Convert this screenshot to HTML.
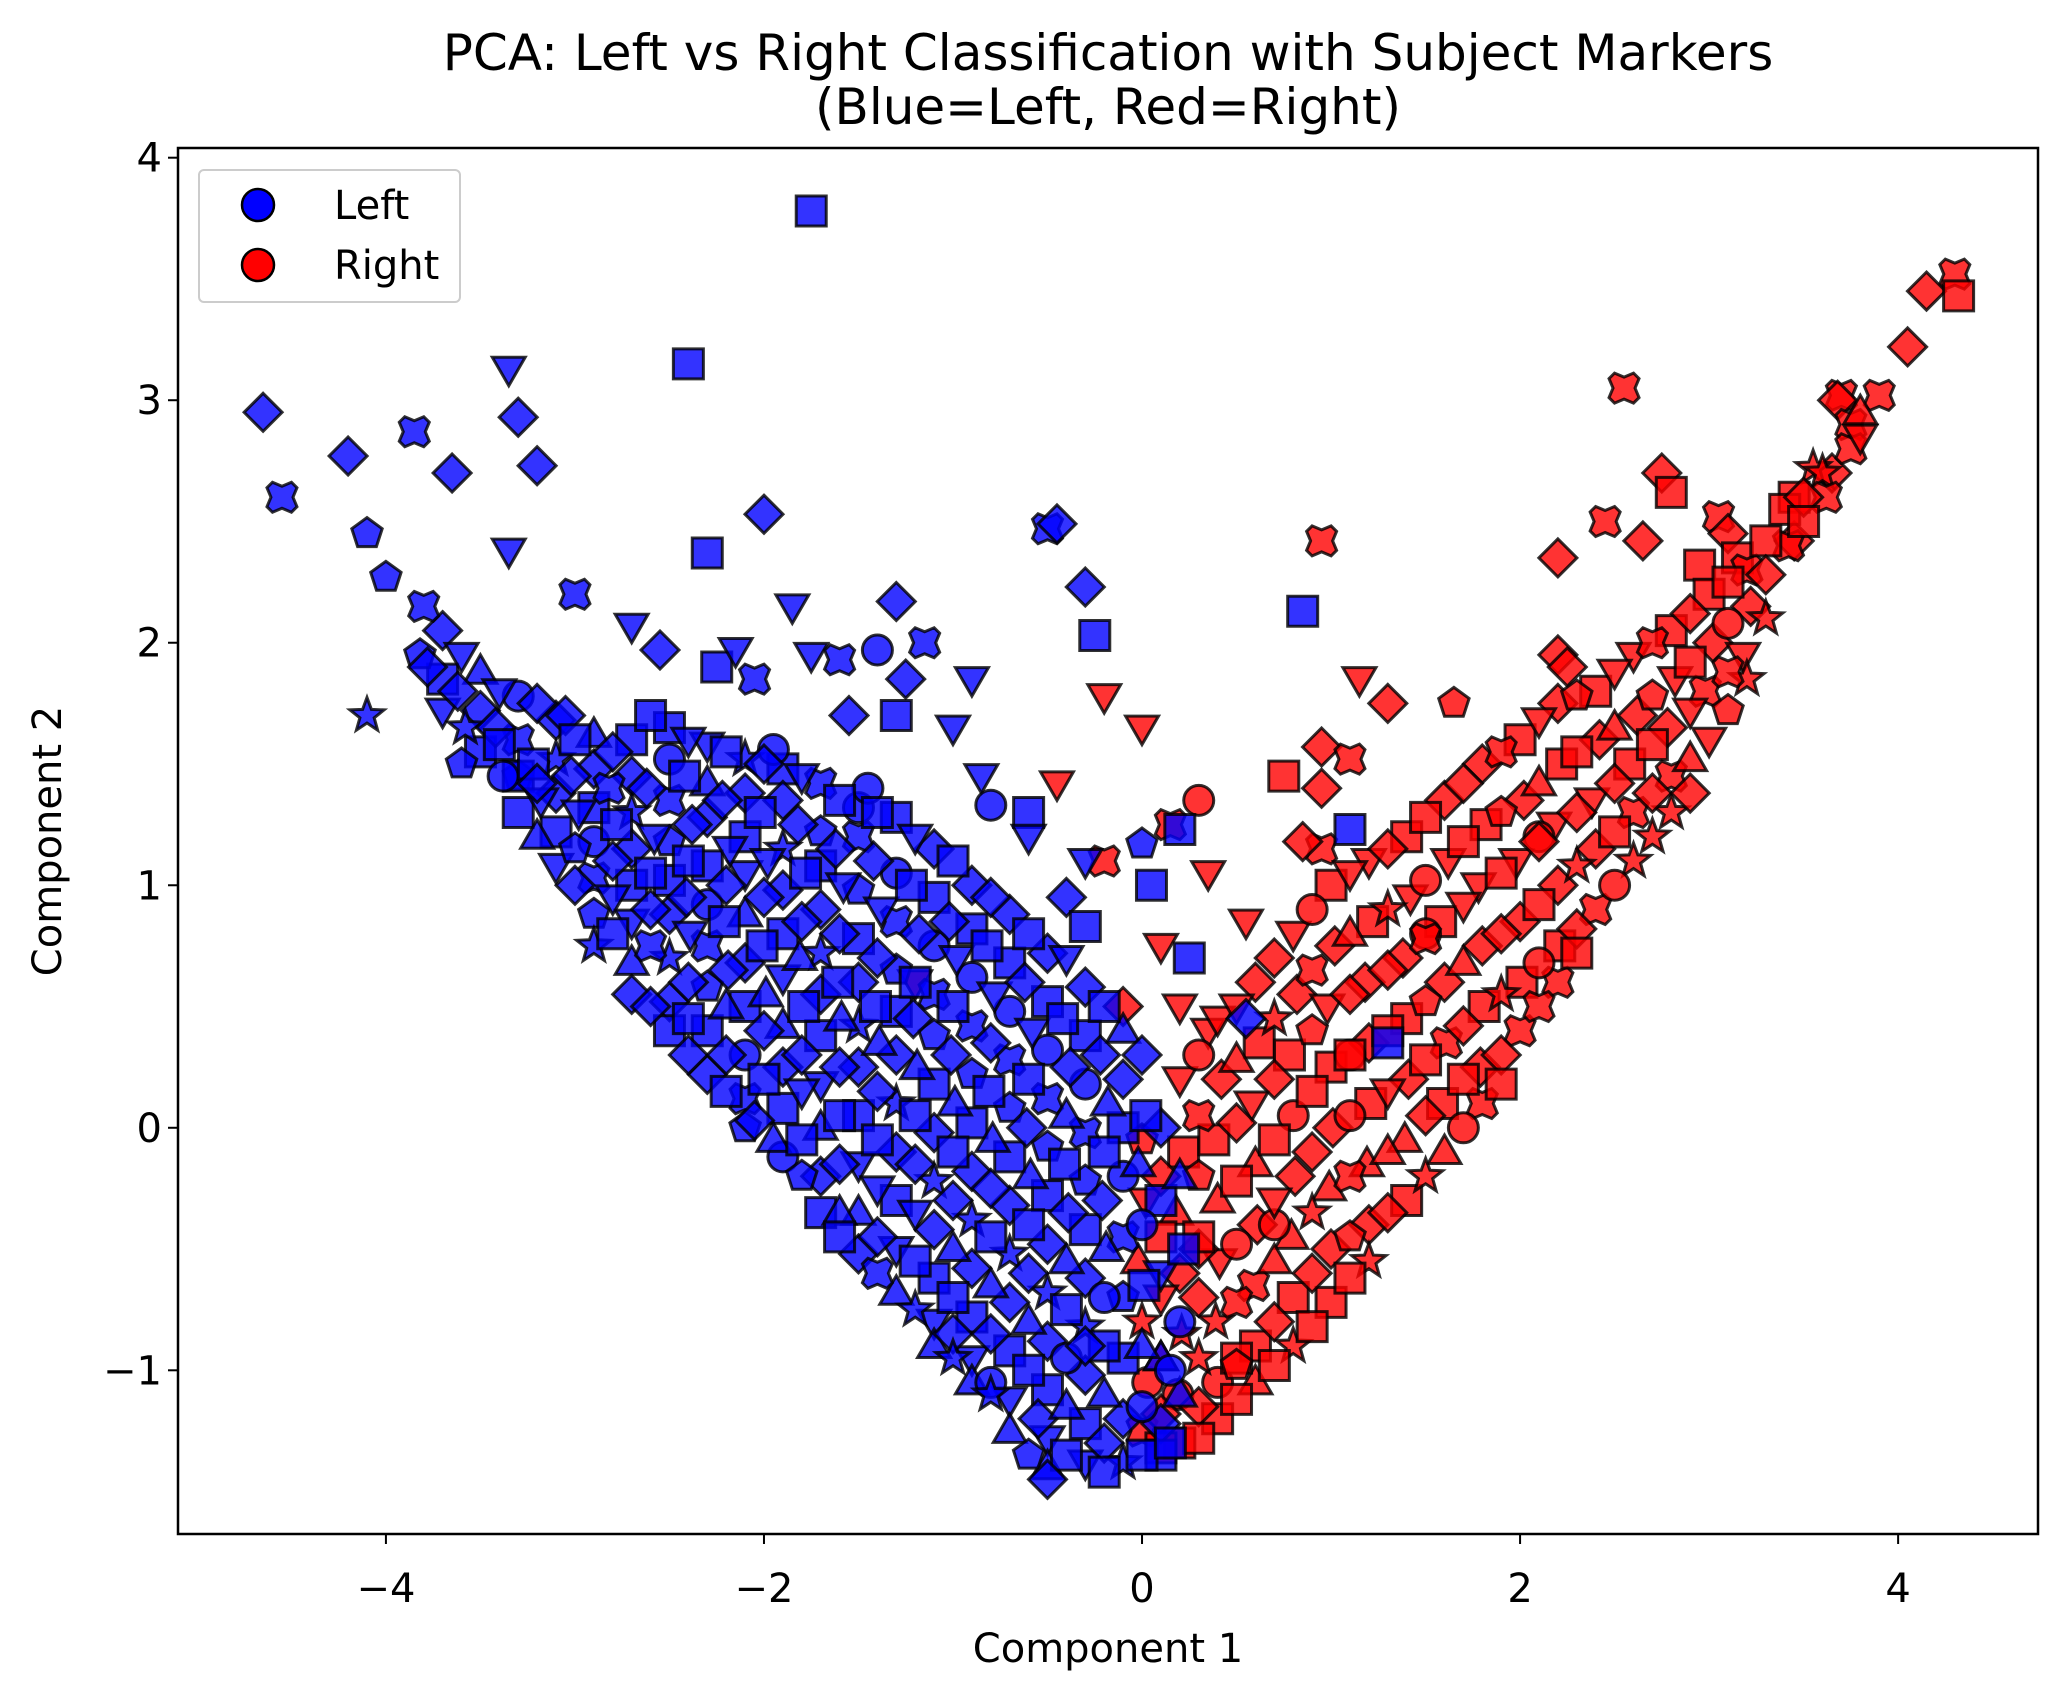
<!DOCTYPE html>
<html><head><meta charset="utf-8"><style>
html,body{margin:0;padding:0;background:#fff;}
svg{display:block;font-family:"DejaVu Sans","Liberation Sans",sans-serif;}
</style></head><body>
<svg id="chart" width="2067" height="1690" viewBox="0 0 2067 1690">
<rect x="0" y="0" width="2067" height="1690" fill="#fff"/>
<text x="1108" y="70" font-size="50" text-anchor="middle">PCA: Left vs Right Classification with Subject Markers</text>
<text x="1108" y="124" font-size="50" text-anchor="middle">(Blue=Left, Red=Right)</text>
<g id="plot"></g>
<g id="axes"></g>
<text x="1108" y="1662" font-size="40" text-anchor="middle">Component 1</text>
<text x="0" y="0" font-size="40" text-anchor="middle" transform="translate(61,841) rotate(-90)">Component 2</text>
<g>
<rect x="199" y="170" width="261" height="132" rx="5" fill="#fff" fill-opacity="0.8" stroke="#ccc" stroke-width="2"/>
<g>
<circle cx="258" cy="205" r="16" fill="#0000ff" stroke="#000" stroke-width="2.5"/>
<text x="334" y="219" font-size="40">Left</text></g>
<g>
<circle cx="258" cy="265" r="16" fill="#ff0000" stroke="#000" stroke-width="2.5"/>
<text x="334" y="279" font-size="40">Right</text></g>
</g>
</svg>
<script>
// markers: 0 o, 1 s, 2 ^, 3 v, 4 D, 5 p, 6 *, 7 X
const xTicks = [-4, -2, 0, 2, 4];
const yTicks = [-1, 0, 1, 2, 3, 4];
const rightPoints = [
[4.15,3.45,4],[4.3,3.52,7],[4.32,3.43,1],[4.05,3.22,4],[3.7,3.02,7],[3.68,3.0,4],[3.9,3.02,7],[3.75,2.9,7],[3.65,2.7,4],[3.55,2.72,6],[3.75,2.8,7],[3.45,2.6,1],[3.45,2.42,4],[2.55,3.05,7],[2.75,2.7,4],[2.8,2.62,1],[2.45,2.5,7],[2.65,2.42,4],[0.95,2.42,7],[2.2,2.35,4],[3.05,2.52,7],[3.1,2.45,4],[3.15,2.35,1],[2.95,2.32,1],[1.65,1.75,5],[1.3,1.75,4],[1.15,1.85,3],[0.95,1.57,4],[1.1,1.52,7],[2.2,1.95,4],[2.25,1.9,4],[-0.2,1.78,3],[0.0,1.65,3],[-0.45,1.42,3],[0.75,1.45,1],[0.95,1.4,4],[0.3,1.35,0],[0.15,1.25,7],[-0.2,1.1,7],[0.35,1.05,3],[0.95,1.15,7],[0.85,1.18,4],[-1.2,0.6,3],[-0.1,0.5,4],[0.2,0.5,3],[0.35,0.4,3],[0.1,0.75,3],[0.55,0.85,3],
[0.0,-0.05,5],[0.02,-0.3,3],[-0.02,-0.55,2],[0.0,-0.8,6],[0.03,-1.05,0],[0.0,-1.25,7],
[0.2,0.2,3],[0.22,-0.1,1],[0.18,-0.35,2],[0.2,-0.6,4],[0.21,-0.85,6],[0.19,-1.1,0],[0.2,-1.3,1],
[0.4,0.45,3],[0.42,0.2,4],[0.38,-0.05,1],[0.4,-0.3,2],[0.41,-0.55,3],[0.39,-0.8,6],[0.4,-1.05,0],[0.4,-1.2,1],
[0.6,0.6,4],[0.62,0.35,1],[0.58,0.1,3],[0.6,-0.15,2],[0.61,-0.4,4],[0.59,-0.65,7],[0.6,-0.9,1],[0.6,-1.05,2],
[0.8,0.8,3],[0.82,0.55,4],[0.78,0.3,1],[0.8,0.05,0],[0.81,-0.2,4],[0.79,-0.45,2],[0.8,-0.7,1],[0.8,-0.9,6],
[1.0,1.0,1],[1.02,0.75,4],[0.98,0.5,3],[1.0,0.25,1],[1.01,0.0,4],[0.99,-0.25,2],[1.0,-0.5,4],[1.0,-0.72,1],
[1.2,1.1,3],[1.22,0.85,1],[1.18,0.6,4],[1.2,0.35,4],[1.21,0.1,1],[1.19,-0.15,2],[1.2,-0.4,4],[1.2,-0.55,6],
[1.4,1.2,1],[1.42,0.95,3],[1.38,0.7,4],[1.4,0.45,1],[1.41,0.2,4],[1.39,-0.05,2],[1.4,-0.3,1],
[1.6,1.35,4],[1.62,1.1,3],[1.58,0.85,1],[1.6,0.6,4],[1.61,0.35,7],[1.59,0.1,1],[1.6,-0.1,2],
[1.8,1.5,4],[1.82,1.25,1],[1.78,1.0,3],[1.8,0.75,4],[1.81,0.5,1],[1.79,0.25,4],[1.8,0.1,7],
[2.0,1.6,1],[2.02,1.35,4],[1.98,1.1,3],[2.0,0.85,4],[2.01,0.6,1],[2.0,0.4,7],
[2.2,1.75,4],[2.22,1.5,1],[2.18,1.25,3],[2.2,1.0,4],[2.21,0.75,1],[2.2,0.6,7],
[2.4,1.8,1],[2.42,1.6,4],[2.38,1.35,3],[2.4,1.15,4],[2.4,0.9,7],
[2.6,1.95,3],[2.62,1.7,4],[2.58,1.5,1],[2.6,1.3,7],[2.6,1.1,6],
[2.8,2.05,1],[2.82,1.85,3],[2.78,1.65,4],[2.8,1.45,7],[2.8,1.3,6],
[3.0,2.2,1],[3.02,2.0,4],[2.98,1.8,7],[3.0,1.6,3],
[3.2,2.3,7],[3.22,2.15,4],[3.18,1.95,3],[3.2,1.85,6],
[3.4,2.55,1],[3.42,2.4,7],[3.6,2.7,6],[3.62,2.6,7],
[1.5,0.8,0],[1.1,0.3,0],[0.7,-0.4,0],[2.1,1.2,0],[0.3,-0.5,4],[0.5,-0.95,1]
];
const rightDenseX = [0.1,0.3,0.5,0.7,0.9,1.1,1.3,1.5,1.7,1.9,2.1,2.3,2.5,2.7,2.9,3.1,3.3,3.5,3.8];
const rightDenseY = [
[-0.2,-0.45,-0.7,-0.95,-1.18,-1.32],
[0.3,0.05,-0.2,-0.45,-0.7,-0.95,-1.15,-1.28],
[0.5,0.28,0.02,-0.22,-0.48,-0.72,-0.98,-1.12],
[0.7,0.45,0.2,-0.05,-0.3,-0.55,-0.8,-0.98],
[0.9,0.65,0.4,0.15,-0.1,-0.35,-0.6,-0.82],
[1.05,0.8,0.55,0.3,0.05,-0.2,-0.45,-0.62],
[1.15,0.9,0.65,0.4,0.15,-0.1,-0.35],
[1.28,1.02,0.78,0.52,0.28,0.05,-0.2],
[1.42,1.18,0.92,0.68,0.42,0.2,0.0],
[1.55,1.3,1.05,0.8,0.55,0.3,0.18],
[1.68,1.42,1.18,0.92,0.68,0.5],
[1.78,1.55,1.3,1.08,0.82,0.72],
[1.88,1.65,1.42,1.22,1.0],
[2.0,1.78,1.58,1.38,1.2],
[2.12,1.92,1.72,1.52,1.38],
[2.25,2.08,1.88,1.72],
[2.42,2.28,2.1],
[2.6,2.5],
[2.85,2.95]
];
const leftPoints = [
[-4.65,2.95,4],[-4.55,2.6,7],[-4.2,2.77,4],[-4.1,2.45,5],[-4.0,2.27,5],[-3.85,2.87,7],[-3.65,2.7,4],[-3.35,3.13,3],[-3.3,2.93,4],[-3.2,2.73,4],[-3.35,2.38,3],[-3.0,2.2,7],[-2.4,3.15,1],[-1.75,3.78,1],[-2.0,2.53,4],[-2.3,2.37,1],[-0.5,2.47,7],[-0.45,2.49,4],[-0.3,2.23,4],[-0.25,2.03,1],[0.85,2.13,1],[-1.3,2.17,4],[-1.15,2.0,7],[-1.85,2.15,3],[-1.4,1.97,0],[-0.9,1.85,3],[-1.75,1.95,3],[-1.6,1.93,7],[-2.25,1.9,1],[-2.55,1.97,4],[-2.15,1.97,3],[-2.7,2.07,3],[-2.05,1.85,7],[-4.1,1.7,6],[-1.45,1.4,0],[-1.95,1.56,0],[-1.55,1.7,4],[-1.3,1.7,1],[-1.25,1.85,4],[-1.0,1.65,3],[-0.85,1.45,3],[-0.8,1.33,0],[-0.6,1.3,1],[-0.6,1.2,3],[-0.3,1.1,3],[0.0,1.17,5],[0.05,1.0,1],[-0.4,0.95,4],[-0.3,0.83,1],[0.2,1.23,1],[1.1,1.23,1],[0.25,0.7,1],[0.55,0.45,4],[1.3,0.35,1],[-2.9,0.75,6],[-3.3,1.45,1],[-3.05,1.7,4],
[-3.8,2.15,7],[-3.82,1.95,5],[-3.78,1.9,4],
[-3.6,1.95,3],[-3.62,1.8,4],[-3.58,1.65,6],[-3.6,1.5,5],
[-3.4,1.8,3],[-3.42,1.65,4],[-3.38,1.45,0],[-3.4,1.58,1],
[-3.2,1.75,4],[-3.22,1.5,1],[-3.18,1.35,3],[-3.2,1.2,2],[-3.2,1.42,4],
[-3.0,1.6,1],[-3.02,1.45,4],[-2.98,1.3,3],[-3.0,1.15,5],[-3.0,1.0,4],
[-2.8,1.55,4],[-2.82,1.4,7],[-2.78,1.25,1],[-2.8,1.1,4],[-2.8,0.95,3],[-2.8,0.8,1],
[-2.6,1.7,1],[-2.62,1.4,4],[-2.58,1.2,3],[-2.6,1.05,1],[-2.6,0.9,4],[-2.6,0.75,7],[-2.6,0.5,4],
[-2.4,1.6,3],[-2.42,1.45,1],[-2.38,1.25,4],[-2.4,1.1,1],[-2.41,0.95,4],[-2.39,0.8,3],[-2.4,0.6,4],[-2.4,0.45,1],[-2.4,0.3,4],
[-2.2,1.55,1],[-2.22,1.35,4],[-2.18,1.15,3],[-2.2,1.0,4],[-2.21,0.85,1],[-2.19,0.65,4],[-2.2,0.5,2],[-2.2,0.3,4],[-2.2,0.15,1],
[-2.0,1.5,4],[-2.02,1.3,1],[-1.98,1.1,3],[-2.0,0.95,4],[-2.01,0.75,1],[-1.99,0.55,2],[-2.0,0.4,4],[-2.0,0.2,1],[-2.05,0.03,4],[-1.95,-0.05,2],
[-1.8,1.45,3],[-1.82,1.25,4],[-1.78,1.05,1],[-1.8,0.85,4],[-1.81,0.7,2],[-1.79,0.5,1],[-1.8,0.3,4],[-1.8,0.15,3],[-1.8,-0.05,1],[-1.8,-0.2,5],
[-1.6,1.35,1],[-1.62,1.15,4],[-1.58,1.0,3],[-1.6,0.8,4],[-1.61,0.6,1],[-1.59,0.45,2],[-1.6,0.25,4],[-1.6,0.05,1],[-1.6,-0.15,4],[-1.6,-0.35,2],[-1.6,-0.45,1],
[-1.4,1.3,1],[-1.42,1.1,4],[-1.38,0.9,3],[-1.4,0.7,4],[-1.41,0.5,1],[-1.39,0.35,2],[-1.4,0.15,4],[-1.4,-0.05,1],[-1.4,-0.25,3],[-1.4,-0.45,4],[-1.4,-0.6,7],
[-1.2,1.2,3],[-1.22,1.0,1],[-1.18,0.8,4],[-1.2,0.6,1],[-1.21,0.45,4],[-1.19,0.25,2],[-1.2,0.05,1],[-1.2,-0.15,4],[-1.2,-0.35,3],[-1.2,-0.55,1],[-1.2,-0.75,6],
[-1.0,1.1,1],[-1.02,0.85,4],[-0.98,0.7,3],[-1.0,0.5,1],[-1.01,0.3,4],[-0.99,0.1,2],[-1.0,-0.1,1],[-1.0,-0.3,4],[-1.0,-0.5,2],[-1.0,-0.7,1],[-1.0,-0.85,4],[-1.0,-0.95,6],
[-0.8,0.95,4],[-0.82,0.75,1],[-0.78,0.55,3],[-0.8,0.35,4],[-0.81,0.15,1],[-0.79,-0.05,2],[-0.8,-0.25,4],[-0.8,-0.45,1],[-0.8,-0.65,2],[-0.8,-0.85,4],[-0.8,-1.05,0],[-0.8,-1.1,6],
[-0.6,0.8,1],[-0.62,0.6,4],[-0.58,0.4,3],[-0.6,0.2,1],[-0.61,0.0,4],[-0.59,-0.2,2],[-0.6,-0.4,1],[-0.6,-0.6,4],[-0.6,-0.8,2],[-0.6,-1.0,1],[-0.55,-1.2,4],[-0.6,-1.35,5],
[-0.4,0.7,3],[-0.42,0.45,1],[-0.38,0.25,4],[-0.4,0.05,2],[-0.41,-0.15,1],[-0.39,-0.35,4],[-0.4,-0.55,2],[-0.4,-0.75,1],[-0.4,-0.95,0],[-0.4,-1.15,2],[-0.4,-1.35,1],[-0.5,-1.45,4],
[-0.2,0.5,1],[-0.22,0.3,4],[-0.18,0.1,2],[-0.2,-0.1,1],[-0.21,-0.3,4],[-0.19,-0.5,2],[-0.2,-0.7,0],[-0.2,-0.9,1],[-0.2,-1.1,2],[-0.2,-1.3,4],[-0.2,-1.42,1],
[0.0,0.3,4],[0.02,0.05,1],[-0.02,-0.15,2],[0.0,-0.4,0],[0.01,-0.65,1],[0.0,-0.9,2],[0.0,-1.15,0],[0.0,-1.35,1],
[0.2,-0.2,2],[0.22,-0.5,1],[0.2,-0.8,0],[0.2,-1.1,2],[0.15,-1.3,1],
[-0.3,-0.9,4],[0.15,-1.0,0]
];
const leftDenseX = [-3.7,-3.5,-3.3,-3.1,-2.9,-2.7,-2.5,-2.3,-2.1,-1.9,-1.7,-1.5,-1.3,-1.1,-0.9,-0.7,-0.5,-0.3,-0.1,0.1];
const leftDenseY = [
[2.05,1.85,1.72],
[1.88,1.72,1.55],
[1.78,1.6,1.45,1.3],
[1.68,1.52,1.38,1.22,1.08],
[1.62,1.48,1.32,1.18,1.03,0.88],
[1.6,1.45,1.3,1.15,1.0,0.85,0.68,0.55],
[1.65,1.52,1.35,1.18,1.02,0.88,0.7,0.52,0.4],
[1.58,1.42,1.28,1.08,0.92,0.75,0.58,0.4,0.22],
[1.52,1.38,1.2,1.05,0.88,0.68,0.5,0.3,0.12,0.0],
[1.48,1.35,1.15,0.98,0.8,0.62,0.42,0.25,0.08,-0.12],
[1.42,1.22,1.08,0.9,0.72,0.55,0.38,0.18,0.0,-0.2,-0.35],
[1.32,1.2,0.98,0.78,0.6,0.42,0.25,0.05,-0.15,-0.35,-0.52],
[1.28,1.05,0.85,0.65,0.48,0.3,0.1,-0.1,-0.3,-0.5,-0.68],
[1.15,0.95,0.75,0.55,0.38,0.18,-0.02,-0.22,-0.42,-0.62,-0.8,-0.9],
[1.0,0.82,0.62,0.42,0.22,0.02,-0.18,-0.38,-0.58,-0.78,-0.95,-1.05],
[0.88,0.68,0.48,0.28,0.08,-0.12,-0.32,-0.52,-0.72,-0.92,-1.12,-1.25],
[0.72,0.52,0.32,0.12,-0.08,-0.28,-0.48,-0.68,-0.88,-1.08,-1.28,-1.4],
[0.58,0.38,0.18,-0.02,-0.22,-0.42,-0.62,-0.82,-1.02,-1.22,-1.38],
[0.4,0.2,0.0,-0.2,-0.45,-0.7,-0.95,-1.2,-1.38],
[0.0,-0.3,-0.6,-0.95,-1.22,-1.35]
];
const X0=178,X1=2038,Y0=148,Y1=1534, xmin=-5.1, xmax=4.74, ymin=-1.675, ymax=4.04;
const NS='http://www.w3.org/2000/svg';
function sx(v){return X0+(v-xmin)/(xmax-xmin)*(X1-X0);}
function sy(v){return Y1-(v-ymin)/(ymax-ymin)*(Y1-Y0);}
function poly(cx,cy,n,r,rot,inner){let p=[];const k=inner?2*n:n;for(let i=0;i<k;i++){const a=rot+i*Math.PI*2/k;const rr=inner&&i%2?inner:r;p.push((cx+rr*Math.sin(a)).toFixed(1)+','+(cy-rr*Math.cos(a)).toFixed(1));}return p.join(' ');}
function shape(m,cx,cy){
  let el;
  if(m===0){el=document.createElementNS(NS,'circle');el.setAttribute('cx',cx);el.setAttribute('cy',cy);el.setAttribute('r',15);return el;}
  el=document.createElementNS(NS,'polygon');
  let pts;
  if(m===1)pts=[[cx-15,cy-15],[cx+15,cy-15],[cx+15,cy+15],[cx-15,cy+15]].map(a=>a.join(',')).join(' ');
  else if(m===2)pts=poly(cx,cy+2,3,19,0);
  else if(m===3)pts=poly(cx,cy-2,3,19,Math.PI);
  else if(m===4)pts=poly(cx,cy,4,19,0);
  else if(m===5)pts=poly(cx,cy,5,16,0);
  else if(m===6)pts=poly(cx,cy,5,18,0,7.5);
  else {const a=5.5,b=15;pts=[[0,-a*2],[b-a,-b],[b,-b+a],[a*2,0],[b,b-a],[b-a,b],[0,a*2],[-b+a,b],[-b,b-a],[-a*2,0],[-b,-b+a],[-b+a,-b]].map(q=>(cx+q[0])+','+(cy+q[1])).join(' ');}
  el.setAttribute('points',pts);return el;
}
const markerCycle=[4,1,3,2,4,1,0,7,5,1,4,6];
function expand(xs,ys){const out=[];let k=0;xs.forEach((x,i)=>{ys[i].forEach(y=>{out.push([x,y,markerCycle[k%markerCycle.length]]);k++;});});return out;}
const plot=document.getElementById('plot');
const clip=document.createElementNS(NS,'clipPath');clip.setAttribute('id','clp');
const cr=document.createElementNS(NS,'rect');cr.setAttribute('x',X0);cr.setAttribute('y',Y0);cr.setAttribute('width',X1-X0);cr.setAttribute('height',Y1-Y0);clip.appendChild(cr);plot.appendChild(clip);
plot.setAttribute('clip-path','url(#clp)');
function drawSeries(arr,color,name){
  const g=document.createElementNS(NS,'g');
  
  
  arr.forEach(p=>{
    const el=shape(p[2],sx(p[0]),sy(p[1]));
    el.setAttribute('fill',color);el.setAttribute('fill-opacity','0.8');
    el.setAttribute('stroke','#000');el.setAttribute('stroke-opacity','0.8');el.setAttribute('stroke-width','3');
    
    
    g.appendChild(el);
  });
  plot.appendChild(g);
}
drawSeries(rightPoints.concat(expand(rightDenseX,rightDenseY)),'#ff0000','right-series');
drawSeries(expand(leftDenseX,leftDenseY).concat(leftPoints),'#0000ff','left-series');
const axes=document.getElementById('axes');
const frame=document.createElementNS(NS,'rect');
frame.setAttribute('x',X0);frame.setAttribute('y',Y0);frame.setAttribute('width',X1-X0);frame.setAttribute('height',Y1-Y0);
frame.setAttribute('fill','none');frame.setAttribute('stroke','#000');frame.setAttribute('stroke-width','2.5');


axes.appendChild(frame);
xTicks.forEach(t=>{
  const x=sx(t);
  const l=document.createElementNS(NS,'line');l.setAttribute('x1',x);l.setAttribute('x2',x);l.setAttribute('y1',Y1);l.setAttribute('y2',Y1+10);l.setAttribute('stroke','#000');l.setAttribute('stroke-width','2');
  
  
  axes.appendChild(l);
  const tx=document.createElementNS(NS,'text');tx.setAttribute('x',x);tx.setAttribute('y',Y1+68);tx.setAttribute('font-size','40');tx.setAttribute('text-anchor','middle');
  tx.textContent=(t<0?'\u2212'+(-t):String(t));
  
  
  axes.appendChild(tx);
});
yTicks.forEach(t=>{
  const y=sy(t);
  const l=document.createElementNS(NS,'line');l.setAttribute('x1',X0-10);l.setAttribute('x2',X0);l.setAttribute('y1',y);l.setAttribute('y2',y);l.setAttribute('stroke','#000');l.setAttribute('stroke-width','2');
  
  
  axes.appendChild(l);
  const tx=document.createElementNS(NS,'text');tx.setAttribute('x',X0-16);tx.setAttribute('y',y+14);tx.setAttribute('font-size','40');tx.setAttribute('text-anchor','end');
  tx.textContent=(t<0?'\u2212'+(-t):String(t));
  
  
  axes.appendChild(tx);
});
</script>
</body></html>
